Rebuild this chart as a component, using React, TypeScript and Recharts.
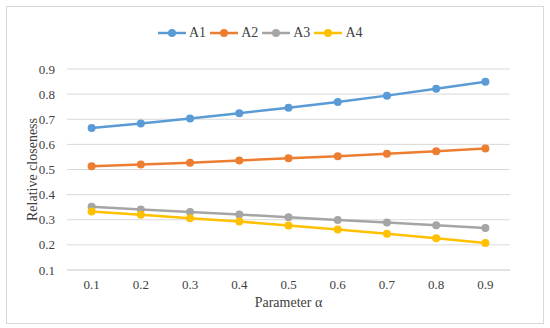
import React from 'react';
import { LineChart, Line, XAxis, YAxis, CartesianGrid, Legend } from 'recharts';

const categories = ['0.1', '0.2', '0.3', '0.4', '0.5', '0.6', '0.7', '0.8', '0.9'];
const A1 = [0.665, 0.683, 0.703, 0.724, 0.746, 0.769, 0.794, 0.821, 0.849];
const A2 = [0.513, 0.52, 0.527, 0.536, 0.545, 0.553, 0.563, 0.573, 0.584];
const A3 = [0.352, 0.341, 0.331, 0.321, 0.31, 0.299, 0.289, 0.278, 0.267];
const A4 = [0.333, 0.32, 0.306, 0.293, 0.277, 0.261, 0.244, 0.226, 0.207];
const yTicks = [0.1, 0.2, 0.3, 0.4, 0.5, 0.6, 0.7, 0.8, 0.9];

const seriesNames = ['A1', 'A2', 'A3', 'A4'];
const seriesColors = ['#5B9BD5', '#ED7D31', '#A5A5A5', '#FFC000'];

const data = categories.map((c, i) => ({ x: c, A1: A1[i], A2: A2[i], A3: A3[i], A4: A4[i] }));

const FONT = '"Liberation Serif", "Times New Roman", serif';

const LegendContent = () => (
  <div style={{ display: 'flex', justifyContent: 'flex-start', alignItems: 'center', fontFamily: FONT, fontSize: 14, color: '#404040', paddingLeft: 158 }}>
    {seriesNames.map((n, i) => (
      <div key={n} style={{ display: 'flex', alignItems: 'center', marginRight: 4 }}>
        <svg width={28} height={10}>
          <line x1={0} y1={5} x2={28} y2={5} stroke={seriesColors[i]} strokeWidth={2.5} />
          <circle cx={14} cy={5} r={4} fill={seriesColors[i]} />
        </svg>
        <span style={{ marginLeft: 3 }}>{n}</span>
      </div>
    ))}
  </div>
);

const tickStyle = { fill: '#404040', fontFamily: FONT, fontSize: 13, style: { fontFamily: FONT } };

export default function App() {
  return (
    <div style={{ position: 'absolute', left: 0, top: 0, width: 550, height: 328, background: '#fff', fontFamily: FONT }}>
      <div style={{ position: 'absolute', left: 6, top: 6, width: 536, height: 316, border: '1px solid #D9D9D9' }} />
      <div style={{ position: 'absolute', left: 0, top: 0 }}>
        <LineChart width={550} height={328} data={data} margin={{ top: 53, right: 40, bottom: 0, left: 0 }} style={{ fontFamily: FONT }}>
          <CartesianGrid vertical={false} stroke="#D9D9D9" strokeWidth={1} />
          <XAxis
            dataKey="x"
            height={58}
            padding={{ left: 24.6, right: 24.6 }}
            axisLine={{ stroke: '#D9D9D9' }}
            tickLine={false}
            tick={tickStyle}
            tickMargin={4}
            label={{ value: 'Parameter α', position: 'insideBottom', offset: 21, fill: '#404040', fontFamily: FONT, fontSize: 14 }}
          />
          <YAxis
            width={67}
            domain={[0.1, 0.9]}
            ticks={yTicks}
            axisLine={false}
            tickLine={false}
            tick={tickStyle}
            tickMargin={6}
            label={{ value: 'Relative closeness', angle: -90, position: 'insideLeft', offset: 32, style: { textAnchor: 'middle' }, fill: '#404040', fontFamily: FONT, fontSize: 14 }}
          />
          <Legend verticalAlign="top" content={LegendContent} wrapperStyle={{ top: 25, left: 0, width: 550 }} />
          {seriesNames.map((n, i) => (
            <Line
              key={n}
              type="linear"
              dataKey={n}
              stroke={seriesColors[i]}
              strokeWidth={2.5}
              dot={{ r: 4, fill: seriesColors[i], stroke: seriesColors[i], strokeWidth: 0 }}
              activeDot={false}
              isAnimationActive={false}
            />
          ))}
        </LineChart>
      </div>
    </div>
  );
}
